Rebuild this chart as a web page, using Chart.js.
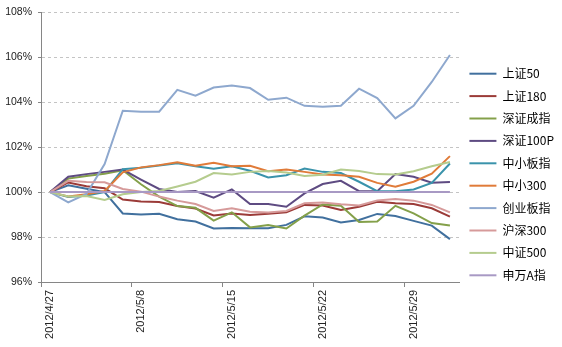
<!DOCTYPE html>
<html>
<head>
<meta charset="utf-8">
<script src="https://cdn.jsdelivr.net/npm/chart.js@4/dist/chart.umd.min.js"></script>
<style>
  html, body { margin: 0; padding: 0; background: #fff; }
  #wrap { width: 562px; height: 347px; position: relative; }
</style>
</head>
<body>
<div id="wrap"><canvas id="chart"></canvas></div>
<script>
// ===== data (% of 2012/4/27 close) =====
const dates = ['2012/4/27', '2012/5/2', '2012/5/3', '2012/5/4', '2012/5/7', '2012/5/8', '2012/5/9',
  '2012/5/10', '2012/5/11', '2012/5/14', '2012/5/15', '2012/5/16', '2012/5/17', '2012/5/18',
  '2012/5/21', '2012/5/22', '2012/5/23', '2012/5/24', '2012/5/25', '2012/5/28', '2012/5/29',
  '2012/5/30', '2012/5/31'];

const seriesNames = ['上证50', '上证180', '深证成指', '深证100P', '中小板指', '中小300', '创业板指', '沪深300', '中证500', '申万A指'];

const sz50 = [100, 100.3, 100.15, 100.0, 99.05, 99.0, 99.04, 98.79, 98.69, 98.38, 98.4, 98.39,
  98.39, 98.54, 98.92, 98.87, 98.65, 98.76, 99.03, 98.94, 98.72, 98.51, 97.91];
const sz180 = [100, 100.43, 100.26, 100.17, 99.67, 99.58, 99.56, 99.38, 99.27, 98.96, 99.05, 98.98,
  99.04, 99.1, 99.43, 99.4, 99.2, 99.35, 99.57, 99.5, 99.47, 99.28, 98.91];
const szcz = [100, 100.6, 100.72, 100.82, 100.97, 100.35, 99.8, 99.38, 99.3, 98.73, 99.1, 98.43,
  98.54, 98.38, 98.95, 99.45, 99.39, 98.67, 98.69, 99.39, 99.05, 98.62, 98.51];
const sz100p = [100, 100.68, 100.8, 100.9, 101.0, 100.56, 100.14, 100.0, 100.05, 99.75, 100.12, 99.47,
  99.47, 99.35, 99.94, 100.36, 100.5, 100.04, 100.04, 100.8, 100.68, 100.42, 100.45];
const zxb = [100, 99.78, 99.85, 100.0, 101.02, 101.08, 101.18, 101.28, 101.15, 101.04, 101.15, 100.95,
  100.65, 100.75, 101.05, 100.9, 100.85, 100.46, 100.04, 100.04, 100.12, 100.41, 101.27];
const zx300 = [100, 99.8, 99.9, 100.05, 100.88, 101.1, 101.2, 101.33, 101.17, 101.3, 101.15, 101.17,
  100.93, 101.0, 100.9, 100.78, 100.75, 100.68, 100.41, 100.24, 100.46, 100.82, 101.6];
const cyb = [100, 99.54, 99.92, 101.25, 103.62, 103.58, 103.58, 104.55, 104.29, 104.65, 104.74, 104.63,
  104.11, 104.2, 103.84, 103.8, 103.84, 104.6, 104.18, 103.28, 103.84, 104.9, 106.1];
const hs300 = [100, 100.5, 100.45, 100.44, 100.14, 100.02, 99.8, 99.62, 99.47, 99.16, 99.28, 99.13,
  99.09, 99.16, 99.5, 99.54, 99.46, 99.4, 99.63, 99.69, 99.62, 99.43, 99.1];
const zz500 = [100, 99.8, 99.83, 99.65, 99.9, 100.0, 100.05, 100.25, 100.46, 100.85, 100.78, 100.9,
  100.94, 100.87, 100.72, 100.77, 101.0, 100.94, 100.8, 100.78, 100.93, 101.15, 101.34];
const swa = [100, 100, 100, 100, 100, 100, 100, 100, 100, 100, 100, 100,
  100, 100, 100, 100, 100, 100, 100, 100, 100, 100, 100];

const yTicks = [96, 98, 100, 102, 104, 106, 108];

const seriesData = [sz50, sz180, szcz, sz100p, zxb, zx300, cyb, hs300, zz500, swa];
const colors = ['#41709E', '#9B3B38', '#84A04A', '#5E4B82', '#3A93AB', '#E07B39',
  '#8EA8CE', '#D69A9A', '#B5CC8E', '#A899C4'];

const tickFont = { family: 'Liberation Sans, Arial, sans-serif', size: 10.5 };
const axisColor = '#868686';

// later series drawn on top, like the spreadsheet
const datasets = seriesData.map((d, i) => ({
  label: seriesNames[i],
  data: d,
  borderColor: colors[i],
  backgroundColor: colors[i],
  borderWidth: 2,
  pointRadius: 0,
  tension: 0,
  order: seriesData.length - i
}));

const ctx = document.getElementById('chart').getContext('2d');
new Chart(ctx, {
  type: 'line',
  data: { labels: dates, datasets },
  options: {
    responsive: true,
    maintainAspectRatio: false,
    animation: false,
    layout: { padding: { top: 10, left: 0, right: -2, bottom: 8 } },
    plugins: {
      tooltip: { enabled: false },
      legend: {
        position: 'right',
        labels: {
          boxWidth: 27,
          boxHeight: 2,
          padding: 10.4,
          color: '#000',
          font: { family: '"Noto Sans CJK SC", sans-serif', size: 12 },
          generateLabels(chart) {
            const items = Chart.defaults.plugins.legend.labels.generateLabels(chart);
            items.forEach(it => { it.lineWidth = 0; it.fillStyle = it.strokeStyle; });
            return items.sort((a, b) => a.datasetIndex - b.datasetIndex);
          }
        }
      }
    },
    scales: {
      x: {
        type: 'category',
        offset: true,
        afterFit(s) { s.height = 57; },
        grid: {
          offset: true,
          drawOnChartArea: false,
          tickLength: 5,
          color: c => (c.index % 5 === 0 ? axisColor : 'rgba(0,0,0,0)')
        },
        border: { color: axisColor, width: 1 },
        ticks: {
          autoSkip: false,
          maxRotation: 90,
          minRotation: 90,
          padding: 3,
          color: '#222',
          font: { family: 'Liberation Sans, Arial, sans-serif', size: 11 },
          callback(v, i) { return i % 5 === 0 ? dates[i] : ''; }
        }
      },
      y: {
        min: yTicks[0],
        max: yTicks[yTicks.length - 1],
        afterFit(s) { s.width = 41; },
        afterBuildTicks(s) { s.ticks = yTicks.map(v => ({ value: v })); },
        grid: {
          color: '#C4C4C4',
          tickColor: axisColor,
          tickLength: 3
        },
        border: { color: axisColor, width: 1, dash: [3, 3] },
        ticks: {
          padding: 6,
          color: '#222',
          font: tickFont,
          callback: v => v + '%'
        }
      }
    }
  }
});
</script>
</body>
</html>
